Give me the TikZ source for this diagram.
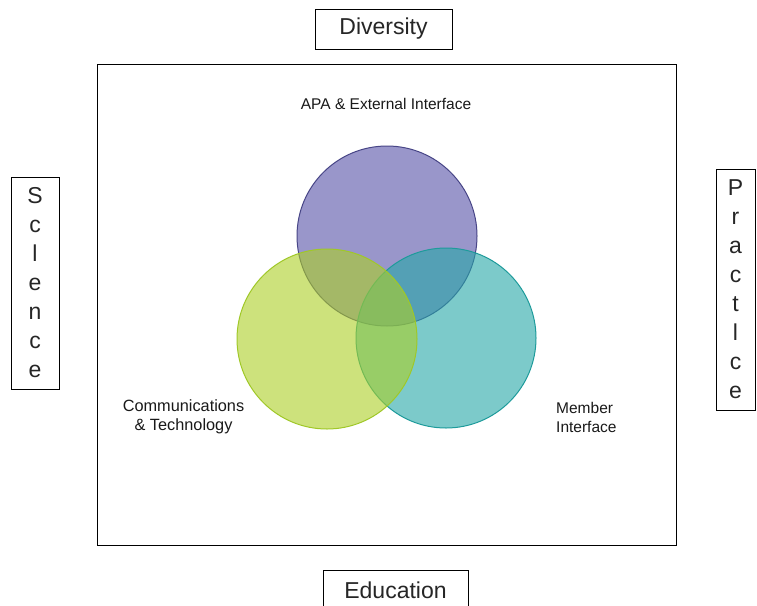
\documentclass[tikz,border=0pt]{standalone}
\usepackage{fontspec}
\setmainfont{Liberation Sans}
\definecolor{purpfill}{RGB}{85,80,168}
\definecolor{purpline}{RGB}{72,70,135}
\definecolor{grnfill}{RGB}{172,207,37}
\definecolor{grnline}{RGB}{160,200,40}
\definecolor{tealfill}{RGB}{38,167,167}
\definecolor{tealline}{RGB}{30,155,155}
\tikzset{
  titlebox/.style={draw=black, line width=1pt, inner sep=0pt, font=\fontsize{23}{29}\selectfont, text=black!85},
  sidebox/.style={titlebox, align=center},
  framebox/.style={draw=black, line width=0.9pt, inner sep=0pt},
  setcircle/.style={circle, minimum size=180pt, inner sep=0pt, line width=1pt, fill opacity=0.6, draw opacity=1},
  lbl/.style={font=\fontsize{15.5}{19}\selectfont, text=black!90, inner sep=0pt}
}
\begin{document}
\begin{tikzpicture}[x=1pt,y=-1pt]
\useasboundingbox (0,0) rectangle (757,605);
\fill[white] (0,0) rectangle (757,605);
\node[framebox, minimum width=579pt, minimum height=481pt] (frame) at (386.5,304.5) {};
\node[titlebox, minimum width=137pt, minimum height=40pt] (diversity) at (383.5,29) {Diversity};
\node[titlebox, minimum width=145pt, minimum height=40pt] (education) at (395.5,590) {};
\node[inner sep=0pt, font=\fontsize{23}{29}\selectfont, text=black!85] (educationtext) at (395.5,590) {Education};
\node[sidebox, minimum width=48pt, minimum height=212pt] (science) at (35,283) {S\\c\\l\\e\\n\\c\\e};
\node[sidebox, minimum width=39pt, minimum height=241pt] (practice) at (735.5,289.5) {P\\r\\a\\c\\t\\l\\c\\e};
\node[setcircle, fill=purpfill, draw=purpline] (apa) at (387,236) {};
\node[setcircle, fill=tealfill, draw=tealline] (member) at (446,338) {};
\node[setcircle, fill=grnfill, draw=grnline] (comm) at (327,339) {};
\node[lbl] (apalbl) at (386,104) {APA \& External Interface};
\node[lbl, font=\fontsize{16.3}{19}\selectfont, align=center] (commlbl) at (183.5,417) {Communications\\\& Technology};
\node[lbl, anchor=west, align=left] (memberlbl) at (556,417) {Member\\Interface};
\end{tikzpicture}
\end{document}
